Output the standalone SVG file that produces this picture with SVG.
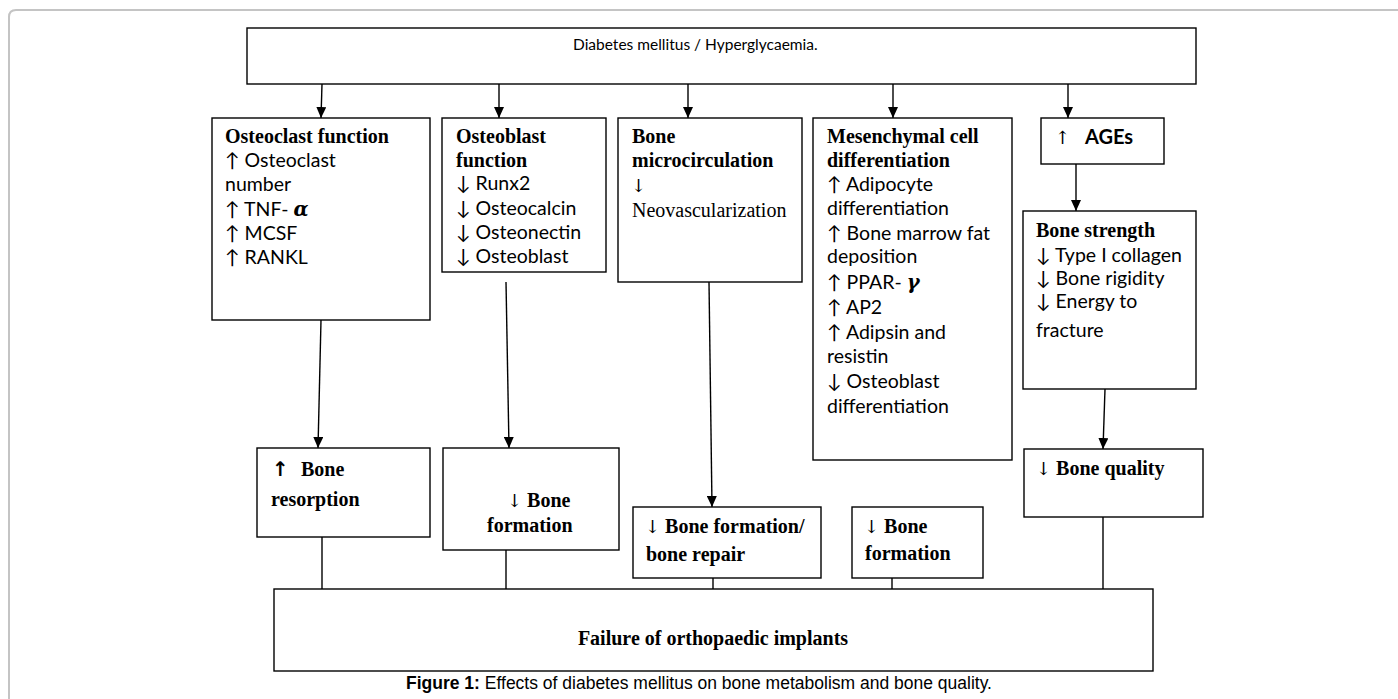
<svg xmlns="http://www.w3.org/2000/svg" width="1398" height="699" viewBox="0 0 1398 699">
<defs>
<marker id="ah" markerUnits="userSpaceOnUse" markerWidth="11" markerHeight="10" refX="11" refY="5" orient="auto">
<path d="M0,0 L11,5 L0,10 z" fill="#000"/>
</marker>
<style>
.box{fill:#fff;stroke:#000;stroke-width:1.4}
.ln{stroke:#000;stroke-width:1.4;fill:none}
.ar{stroke:#000;stroke-width:1.4;fill:none;marker-end:url(#ah)}
.b{font-family:"Liberation Serif",serif;font-weight:bold;font-size:20px;fill:#000}
.r{font-family:"Liberation Serif",serif;font-size:20px;fill:#000}
.s{font-family:Lato,"Liberation Sans",sans-serif;font-size:19.5px;fill:#000}
.g{font-family:"DejaVu Serif",serif;font-style:italic;font-weight:bold}
.a{font-family:"DejaVu Serif",serif;font-weight:normal;font-size:18px;fill:#000}
</style>
</defs>
<rect width="1398" height="699" fill="#fff"/>
<path d="M9,700 V17 Q9,10 16,10 H1400" fill="none" stroke="#c4c4c4" stroke-width="2"/>

<g id="connectors">
<line class="ar" x1="322" y1="84" x2="321" y2="118"/>
<line class="ar" x1="499" y1="84" x2="499" y2="118"/>
<line class="ar" x1="688" y1="84" x2="688" y2="118"/>
<line class="ar" x1="893" y1="84" x2="893" y2="118"/>
<line class="ar" x1="1068" y1="84" x2="1068" y2="118"/>
<line class="ar" x1="1076" y1="164" x2="1076" y2="211"/>
<line class="ar" x1="321" y1="320" x2="318" y2="448"/>
<line class="ar" x1="506" y1="282" x2="509" y2="448"/>
<line class="ar" x1="709" y1="282" x2="712" y2="507"/>
<line class="ar" x1="1105" y1="389" x2="1103" y2="449"/>
<line class="ln" x1="322" y1="537" x2="322" y2="589"/>
<line class="ln" x1="506" y1="550" x2="506" y2="589"/>
<line class="ln" x1="713" y1="578" x2="713" y2="589"/>
<line class="ln" x1="892" y1="578" x2="892" y2="589"/>
<line class="ln" x1="1103" y1="517" x2="1103" y2="589"/>
</g>

<g id="diabetes">
<rect class="box" x="247" y="28" width="949" height="56"/>
<text class="s" x="573" y="50" style="font-size:15.5px">Diabetes mellitus / Hyperglycaemia.</text>
</g>

<g id="osteoclast">
<rect class="box" x="212" y="118" width="218" height="202"/>
<text class="b" x="225" y="143">Osteoclast function</text>
<text class="s" x="225" y="167">↑ Osteoclast</text>
<text class="s" x="225" y="191">number</text>
<text class="s" x="225" y="216">↑ TNF- <tspan class="g">α</tspan></text>
<text class="s" x="225" y="240">↑ MCSF</text>
<text class="s" x="225" y="264">↑ RANKL</text>
</g>

<g id="osteoblast">
<rect class="box" x="442" y="118" width="164" height="154"/>
<text class="b" x="456" y="143">Osteoblast</text>
<text class="b" x="456" y="167">function</text>
<text class="s" x="456" y="190">↓ Runx2</text>
<text class="s" x="456" y="215">↓ Osteocalcin</text>
<text class="s" x="456" y="239">↓ Osteonectin</text>
<text class="s" x="456" y="263">↓ Osteoblast</text>
</g>

<g id="microcirculation">
<rect class="box" x="618" y="118" width="184" height="164"/>
<text class="b" x="632" y="143">Bone</text>
<text class="b" x="632" y="167">microcirculation</text>
<text class="a" x="631" y="192">↓</text>
<text class="r" x="632" y="217">Neovascularization</text>
</g>

<g id="mesenchymal">
<rect class="box" x="813" y="118" width="199" height="342"/>
<text class="b" x="827" y="143">Mesenchymal cell</text>
<text class="b" x="827" y="167">differentiation</text>
<text class="s" x="827" y="191">↑ Adipocyte</text>
<text class="s" x="827" y="215">differentiation</text>
<text class="s" x="827" y="240">↑ Bone marrow fat</text>
<text class="s" x="827" y="263">deposition</text>
<text class="s" x="827" y="289">↑ PPAR- <tspan class="g">γ</tspan></text>
<text class="s" x="827" y="314">↑ AP2</text>
<text class="s" x="827" y="339">↑ Adipsin and</text>
<text class="s" x="827" y="363">resistin</text>
<text class="s" x="827" y="388">↓ Osteoblast</text>
<text class="s" x="827" y="413">differentiation</text>
</g>

<g id="ages">
<rect class="box" x="1041" y="118" width="123" height="46"/>
<text class="a" x="1055" y="144">↑</text>
<text class="s" x="1085" y="144" style="font-weight:bold;font-size:20px">AGEs</text>
</g>

<g id="bone-strength">
<rect class="box" x="1023" y="211" width="173" height="178"/>
<text class="b" x="1036" y="237">Bone strength</text>
<text class="s" x="1036" y="262">↓ Type I collagen</text>
<text class="s" x="1036" y="285">↓ Bone rigidity</text>
<text class="s" x="1036" y="308">↓ Energy to</text>
<text class="s" x="1036" y="337">fracture</text>
</g>

<g id="bone-resorption">
<rect class="box" x="257" y="448" width="173" height="89"/>
<text x="272" y="476" style="font-family:'DejaVu Sans',sans-serif;font-weight:bold;font-size:20px">↑</text>
<text class="b" x="301" y="476">Bone</text>
<text class="b" x="271" y="506">resorption</text>
</g>

<g id="bone-formation-1">
<rect class="box" x="443" y="448" width="176" height="102"/>
<text class="b" x="507" y="507"><tspan class="a">↓</tspan> Bone</text>
<text class="b" x="487" y="532">formation</text>
</g>

<g id="bone-repair">
<rect class="box" x="633" y="507" width="188" height="71"/>
<text class="b" x="645" y="533"><tspan class="a">↓</tspan> Bone formation/</text>
<text class="b" x="646" y="561">bone repair</text>
</g>

<g id="bone-formation-2">
<rect class="box" x="852" y="507" width="131" height="71"/>
<text class="b" x="864" y="533"><tspan class="a">↓</tspan> Bone</text>
<text class="b" x="865" y="560">formation</text>
</g>

<g id="bone-quality">
<rect class="box" x="1024" y="449" width="179" height="68"/>
<text class="b" x="1036" y="475"><tspan class="a">↓</tspan> Bone quality</text>
</g>

<g id="failure">
<rect class="box" x="274" y="589" width="879" height="82"/>
<text class="b" x="713" y="645" text-anchor="middle">Failure of orthopaedic implants</text>
</g>

<text x="699" y="689" text-anchor="middle" style="font-family:'Liberation Sans',Arial,sans-serif;font-size:17.5px"><tspan font-weight="bold">Figure 1:</tspan> Effects of diabetes mellitus on bone metabolism and bone quality.</text>
</svg>
